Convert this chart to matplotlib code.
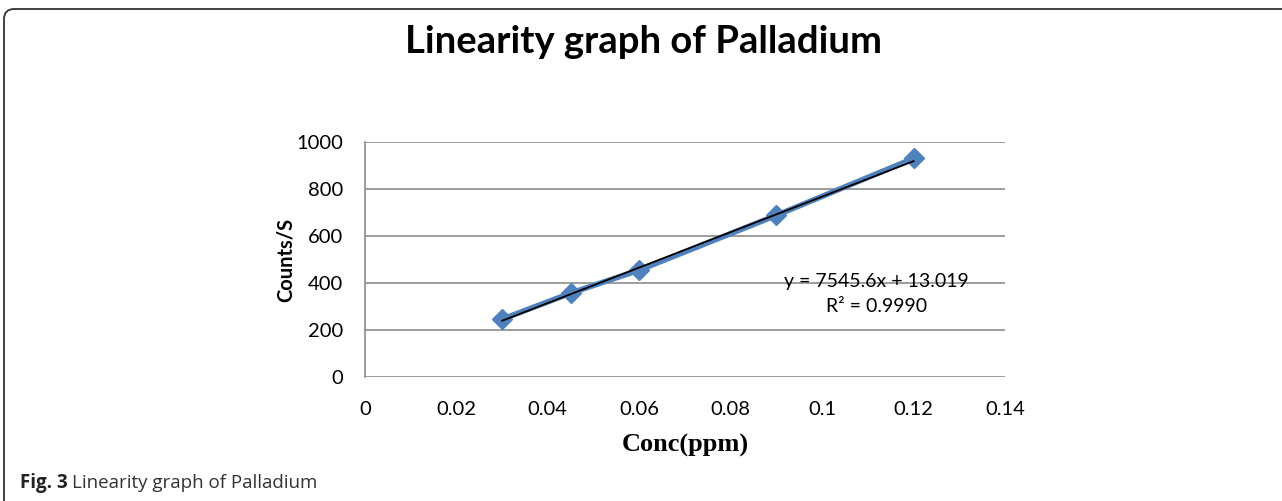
import matplotlib.pyplot as plt
from matplotlib.patches import FancyBboxPatch
import numpy as np

conc = [0.03, 0.045, 0.06, 0.09, 0.12]
counts = [246, 357, 455, 688, 930]
slope = 7545.6
intercept = 13.019
r2 = '0.9990'
xticks = [0, 0.02, 0.04, 0.06, 0.08, 0.1, 0.12, 0.14]
xlabels = ['0', '0.02', '0.04', '0.06', '0.08', '0.1', '0.12', '0.14']
yticks = [0, 200, 400, 600, 800, 1000]

W, H = 1282, 501
fig = plt.figure(figsize=(W / 100, H / 100), dpi=100)
plt.rcParams['font.family'] = ['Lato', 'DejaVu Sans']

# rounded frame: only left and top edges fall inside the image
frame = FancyBboxPatch((4 / W, -0.1), (W + 30) / W, 1.1 - 9 / H,
                       boxstyle='round,pad=0,rounding_size=0.008',
                       mutation_aspect=W / H,
                       transform=fig.transFigure, fill=False,
                       edgecolor='#333333', linewidth=1.3)
fig.patches.append(frame)

ax = fig.add_axes([365 / W, 1 - 377 / H, (1005 - 365) / W, (377 - 142) / H])
ax.set_xlim(0, 0.14)
ax.set_ylim(0, 1000)
ax.set_xticks(xticks)
ax.set_xticklabels(xlabels)
ax.set_yticks(yticks)
ax.tick_params(length=0, labelsize=14.5, pad=16)
ax.tick_params(axis='x', pad=17)
ax.grid(axis='y', color='#8c8c8c', linewidth=1.2)
ax.set_axisbelow(True)
for s in ['top', 'right', 'bottom']:
    ax.spines[s].set_visible(False)
ax.spines['left'].set_color('#8c8c8c')
ax.spines['left'].set_linewidth(1.2)

ax.plot(conc, counts, color='#4F81BD', linewidth=4, marker='D',
        markersize=10, zorder=3)
xs = np.array([conc[0], conc[-1]])
ax.plot(xs, slope * xs + intercept, color='black', linewidth=1.3, zorder=4)

ax.text(0.1118, 408, 'y = 7545.6x + 13.019', ha='center', va='center',
        fontsize=14, zorder=5)
ax.text(0.1118, 298, 'R² = ' + r2, ha='center', va='center',
        fontsize=14, zorder=5)

ax.set_ylabel('Counts/S', fontsize=14.5, fontweight='bold', labelpad=0)
ax.set_xlabel('Conc(ppm)', fontsize=19, fontweight='bold',
              family='Liberation Serif', labelpad=12)

fig.text(644 / W, 1 - 42 / H, 'Linearity graph of Palladium', ha='center',
         va='center', fontsize=27.5, fontweight='bold')
t = fig.text(20 / W, 1 - 483 / H, 'Fig. 3', ha='left', va='center',
             fontsize=13.5, fontweight='bold', color='#222222',
             family='Open Sans')
fig.canvas.draw()
bb = t.get_window_extent()
fig.text((bb.x1 + 4) / W, 1 - 483 / H, 'Linearity graph of Palladium',
         ha='left', va='center', fontsize=13.5, color='#333333',
         family='Open Sans')

fig.savefig('out.png', dpi=100)
